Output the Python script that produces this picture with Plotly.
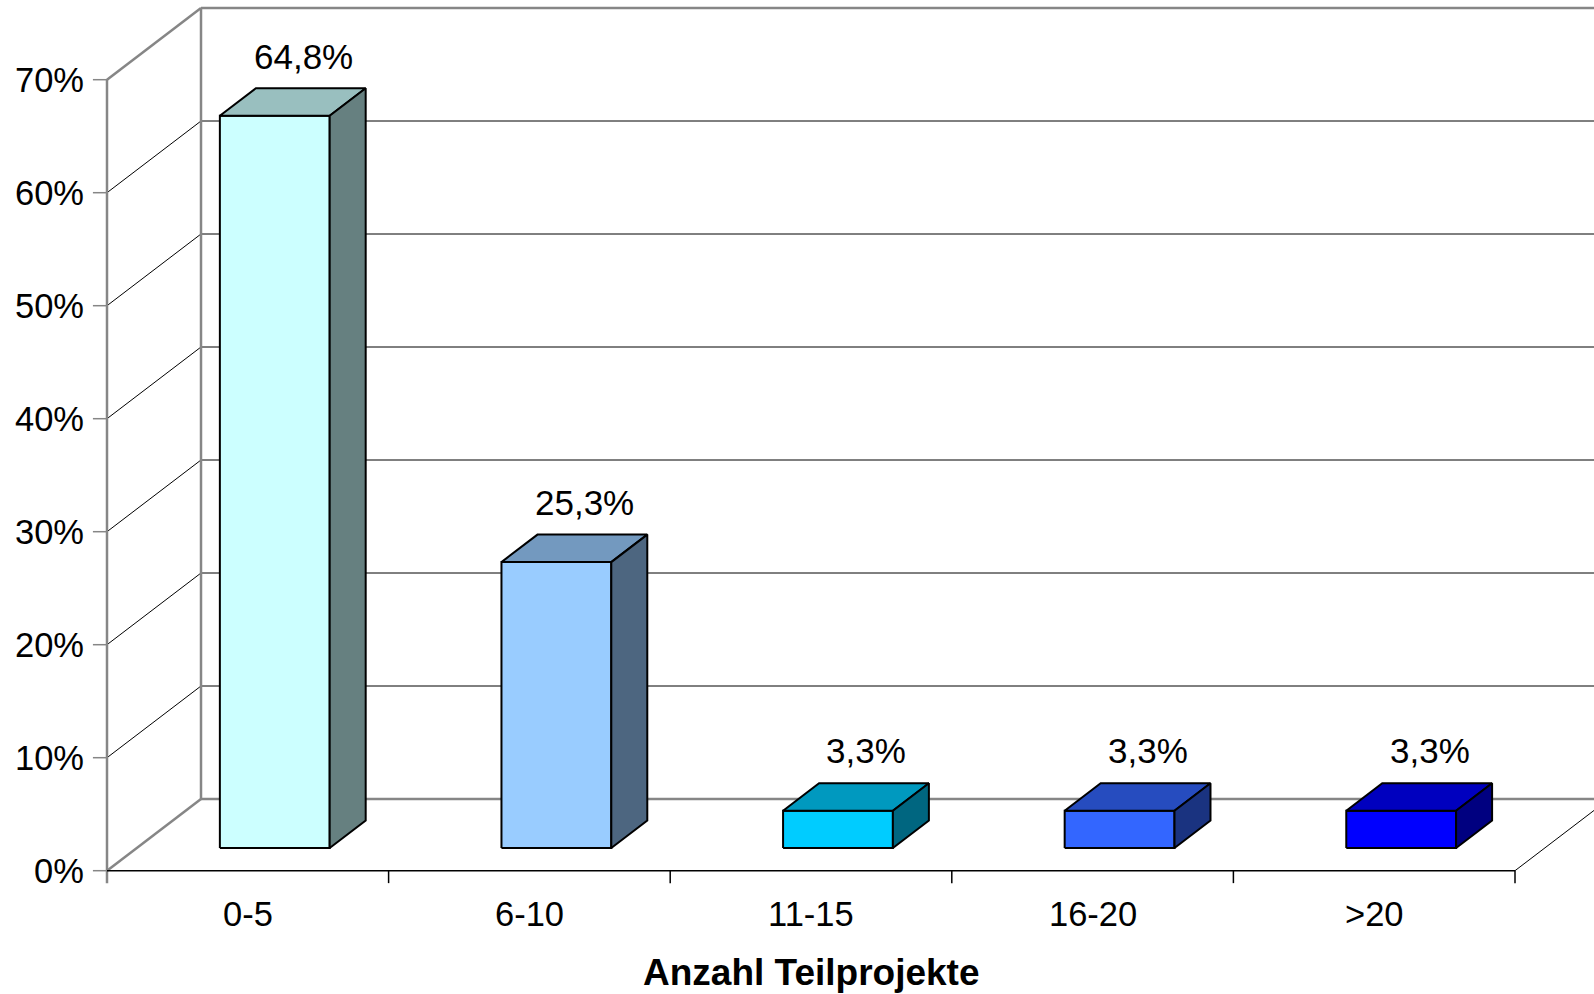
import plotly.graph_objects as go

# ---- data ----
categories = ["0-5", "6-10", "11-15", "16-20", ">20"]
shares = [64.8, 25.3, 3.3, 3.3, 3.3]
value_labels = ["64,8%", "25,3%", "3,3%", "3,3%", "3,3%"]
y_ticks = [0, 10, 20, 30, 40, 50, 60, 70]
y_tick_labels = ["0%", "10%", "20%", "30%", "40%", "50%", "60%", "70%"]
axis_title = "Anzahl Teilprojekte"

front_colors = ["#CCFFFF", "#99CCFF", "#00CCFF", "#3366FF", "#0000FF"]
top_colors = ["#99BFBF", "#7399BF", "#0099BF", "#264CBF", "#0000BF"]
side_colors = ["#668080", "#4D6680", "#006680", "#1A3380", "#000080"]

# ---- oblique 3D projection (depth z in 0..1) ----
DX, DY = 0.3338, 6.345          # depth offset in axis units
Z_FRONT, Z_BACK = 0.317, 0.70   # bar depth slab
HALF_W = 0.195                  # half bar width (category units)
CENTER = 0.49                   # bar centre within its category slot
Y_MAX = 70
N = len(categories)

GRAY = "#868686"
FONT = "Liberation Sans, Arial, sans-serif"


def proj(x, y, z):
    return x + z * DX, y + z * DY


fig = go.Figure()
shapes = []


def seg(p, q, color, width):
    shapes.append(dict(type="line", xref="x", yref="y", x0=p[0], y0=p[1],
                       x1=q[0], y1=q[1], line=dict(color=color, width=width),
                       layer="below"))


FAR = N + 1.0
# back wall gridlines and left wall diagonals
for t in y_ticks:
    edge = t in (0, Y_MAX)
    col, w = (GRAY, 2.5) if edge else ("#000000", 1)
    seg(proj(0, t, 1), proj(FAR, t, 1), col, w)
    seg(proj(0, t, 0), proj(0, t, 1), col, w)

# back wall left edge
seg(proj(0, 0, 1), proj(0, Y_MAX, 1), GRAY, 2.5)
# front value axis
seg((0, -1.1), (0, Y_MAX), GRAY, 2.5)
# floor front edge and right diagonal
seg((0, 0), (N, 0), "#000000", 1.5)
seg(proj(N, 0, 0), proj(N, 0, 1), "#000000", 1)
# category tick marks
for k in range(1, N + 1):
    seg((k, 0), (k, -1.1), "#000000", 1.5)

fig.update_layout(shapes=shapes)

# value-axis tick marks (short horizontal strokes left of the axis)
for t in y_ticks:
    fig.add_trace(go.Scatter(x=[-0.05, 0], y=[t, t], mode="lines",
                             line=dict(color=GRAY, width=1.5),
                             hoverinfo="skip", showlegend=False))

# ---- bars ----
for i, v in enumerate(shares):
    xc = i + CENTER
    x0, x1 = xc - HALF_W, xc + HALF_W
    faces = [
        ([(x0, 0, Z_FRONT), (x1, 0, Z_FRONT), (x1, v, Z_FRONT), (x0, v, Z_FRONT)],
         front_colors[i]),
        ([(x0, v, Z_FRONT), (x1, v, Z_FRONT), (x1, v, Z_BACK), (x0, v, Z_BACK)],
         top_colors[i]),
        ([(x1, 0, Z_FRONT), (x1, 0, Z_BACK), (x1, v, Z_BACK), (x1, v, Z_FRONT)],
         side_colors[i]),
    ]
    for pts, col in faces:
        pp = [proj(*p) for p in pts]
        xs = [p[0] for p in pp] + [pp[0][0]]
        ys = [p[1] for p in pp] + [pp[0][1]]
        fig.add_trace(go.Scatter(x=xs, y=ys, mode="lines", fill="toself",
                                 fillcolor=col,
                                 line=dict(color="#000000", width=2),
                                 hoverinfo="skip", showlegend=False))
    lx, ly = proj(xc, v, 0.62)
    fig.add_annotation(x=lx, y=ly, text=value_labels[i], showarrow=False,
                       xanchor="center", yanchor="middle", yshift=38,
                       font=dict(family=FONT, size=35, color="#000000"))

# ---- axis labels ----
for t, lab in zip(y_ticks, y_tick_labels):
    fig.add_annotation(x=0, y=t, text=lab, showarrow=False, xanchor="right",
                       yanchor="middle", xshift=-21,
                       font=dict(family=FONT, size=34.5, color="#000000"))

for i, lab in enumerate(categories):
    fig.add_annotation(x=i + 0.5, y=0, text=lab, showarrow=False,
                       xanchor="center", yanchor="middle", yshift=-43,
                       font=dict(family=FONT, size=34.5, color="#000000"))

fig.add_annotation(x=N / 2, y=0, text="<b>" + axis_title + "</b>",
                   showarrow=False, xanchor="center", yanchor="middle",
                   yshift=-102, font=dict(family=FONT, size=37, color="#000000"))

# ---- layout: axis units map directly onto the page ----
PX_PER_CAT = 281.6
PX_PER_PCT = 11.3
X0_PX, Y0_PX = 107, 870.7
W, H = 1594, 994

fig.update_layout(
    width=W, height=H,
    margin=dict(l=0, r=0, t=0, b=0),
    paper_bgcolor="white", plot_bgcolor="white",
    xaxis=dict(range=[-X0_PX / PX_PER_CAT, (W - X0_PX) / PX_PER_CAT],
               visible=False, fixedrange=True),
    yaxis=dict(range=[(Y0_PX - H) / PX_PER_PCT, Y0_PX / PX_PER_PCT],
               visible=False, fixedrange=True),
    showlegend=False,
)

fig.write_html("out.html")
